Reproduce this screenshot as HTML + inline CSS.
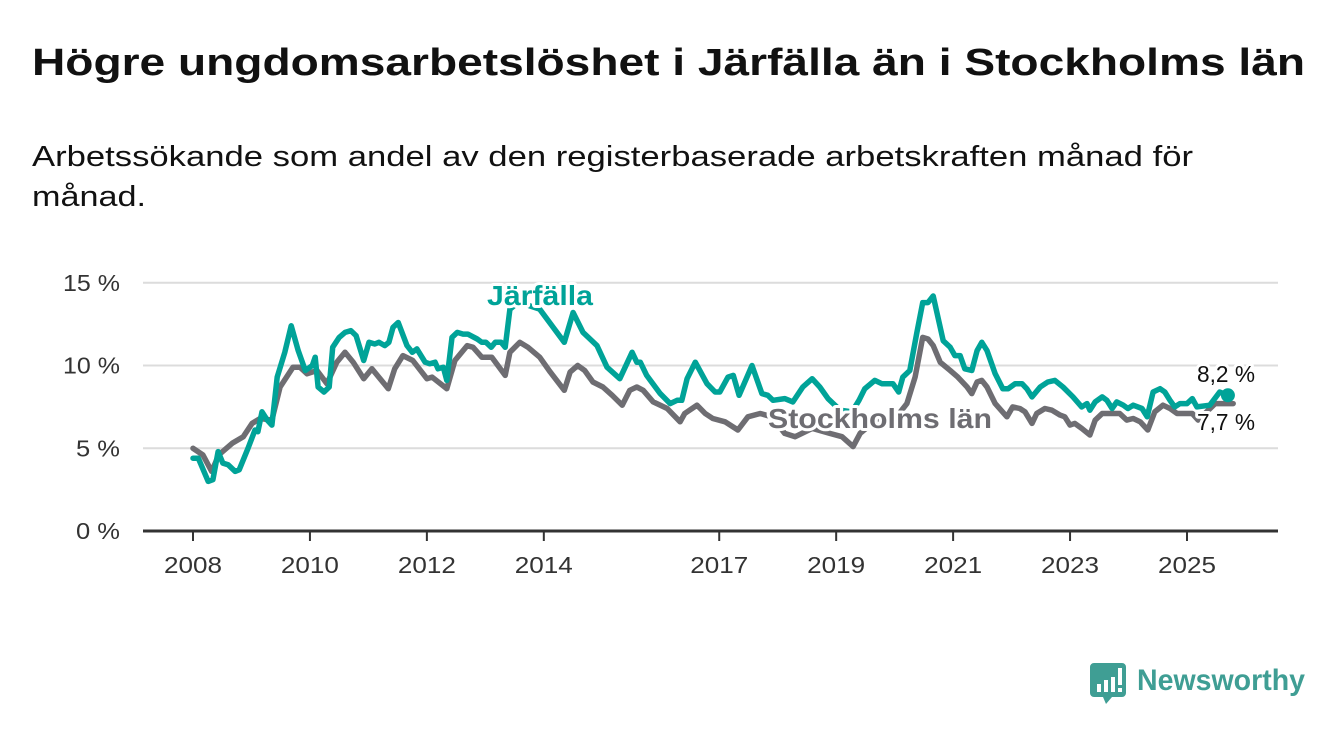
<!DOCTYPE html>
<html><head><meta charset="utf-8"><style>
html,body{margin:0;padding:0;background:#fff;}
svg{display:block;font-family:"Liberation Sans",sans-serif;}
</style></head><body>
<svg id="chart" width="1340" height="734" viewBox="0 0 1340 734">
<text x="32" y="75" font-size="38" font-weight="bold" fill="#111" textLength="1273" lengthAdjust="spacingAndGlyphs">Högre ungdomsarbetslöshet i Järfälla än i Stockholms län</text>
<text x="32" y="166" font-size="29" fill="#111" textLength="1161" lengthAdjust="spacingAndGlyphs">Arbetssökande som andel av den registerbaserade arbetskraften månad för</text>
<text x="32" y="206" font-size="29" fill="#111" textLength="114" lengthAdjust="spacingAndGlyphs">månad.</text>
<g id="grid"></g>
<g id="xaxis"></g>
<g id="series"></g>
<g id="labels"></g>
<g>
<path d="M1094 663 h28 a4 4 0 0 1 4 4 v26 a4 4 0 0 1 -4 4 h-10 l-6 7 l-3 -7 h-9 a4 4 0 0 1 -4 -4 v-26 a4 4 0 0 1 4 -4z" fill="#3f9e94"/>
<rect x="1097" y="684" width="4" height="8" fill="#fff"/>
<rect x="1104" y="680" width="4" height="12" fill="#fff"/>
<rect x="1111" y="677" width="4" height="15" fill="#fff"/>
<rect x="1118" y="668" width="4" height="17" fill="#fff"/>
<rect x="1118" y="688" width="4" height="4" fill="#fff"/>
<text x="1137" y="690" font-size="30" font-weight="bold" fill="#3f9e94" textLength="168" lengthAdjust="spacingAndGlyphs">Newsworthy</text>
</g>
</svg>
<script>
const yTicks = [0, 5, 10, 15];
const yTickLabels = ["0 %", "5 %", "10 %", "15 %"];
const xTicks = [2008, 2010, 2012, 2014, 2017, 2019, 2021, 2023, 2025];
const jarYears = [2008.0,2008.09,2008.26,2008.34,2008.43,2008.51,2008.60,2008.72,2008.79,2008.94,2009.06,2009.11,2009.18,2009.27,2009.35,2009.44,2009.57,2009.68,2009.80,2009.92,2010.04,2010.09,2010.14,2010.24,2010.33,2010.39,2010.50,2010.60,2010.70,2010.79,2010.92,2011.01,2011.11,2011.18,2011.28,2011.35,2011.42,2011.51,2011.66,2011.75,2011.83,2011.97,2012.05,2012.14,2012.19,2012.28,2012.34,2012.43,2012.52,2012.62,2012.70,2012.86,2012.94,2013.01,2013.10,2013.17,2013.27,2013.34,2013.42,2013.59,2013.76,2013.93,2014.16,2014.35,2014.50,2014.67,2014.76,2014.91,2015.08,2015.30,2015.51,2015.59,2015.65,2015.76,2015.99,2016.16,2016.28,2016.36,2016.45,2016.59,2016.79,2016.93,2017.01,2017.15,2017.24,2017.34,2017.56,2017.73,2017.83,2017.92,2018.12,2018.26,2018.43,2018.59,2018.72,2018.86,2019.07,2019.27,2019.39,2019.49,2019.66,2019.78,2019.97,2020.07,2020.14,2020.26,2020.38,2020.48,2020.57,2020.66,2020.83,2020.95,2021.03,2021.12,2021.20,2021.32,2021.41,2021.49,2021.58,2021.72,2021.85,2021.94,2022.06,2022.18,2022.26,2022.35,2022.49,2022.62,2022.74,2022.88,2023.05,2023.20,2023.29,2023.34,2023.43,2023.55,2023.63,2023.72,2023.80,2023.91,2023.99,2024.08,2024.23,2024.32,2024.42,2024.54,2024.62,2024.71,2024.79,2024.88,2025.00,2025.09,2025.17,2025.39,2025.56,2025.70];
const jarValues = [4.4,4.4,3.0,3.1,4.8,4.1,4.0,3.6,3.7,5.0,6.1,6.0,7.2,6.7,6.4,9.3,10.8,12.4,10.9,9.7,10.0,10.5,8.7,8.4,8.7,11.1,11.7,12.0,12.1,11.8,10.3,11.4,11.3,11.4,11.2,11.4,12.3,12.6,11.2,10.8,11.0,10.2,10.1,10.2,9.8,9.9,9.1,11.7,12.0,11.9,11.9,11.6,11.4,11.4,11.1,11.4,11.4,11.1,13.4,13.9,13.6,13.4,12.3,11.4,13.2,12.0,11.7,11.2,9.9,9.2,10.8,10.2,10.2,9.4,8.3,7.7,7.9,7.9,9.2,10.2,8.9,8.4,8.4,9.3,9.4,8.2,10.0,8.3,8.2,7.9,8.0,7.8,8.7,9.2,8.7,8.0,7.3,7.2,7.9,8.6,9.1,8.9,8.9,8.4,9.3,9.7,12.0,13.8,13.8,14.2,11.5,11.1,10.6,10.6,9.8,9.7,10.9,11.4,10.9,9.5,8.6,8.6,8.9,8.9,8.6,8.1,8.7,9.0,9.1,8.7,8.1,7.5,7.7,7.3,7.8,8.1,7.9,7.4,7.8,7.6,7.4,7.6,7.4,6.9,8.4,8.6,8.4,7.9,7.5,7.7,7.7,8.0,7.5,7.6,8.4,8.2];
const stoYears = [2008.0,2008.17,2008.32,2008.44,2008.67,2008.86,2009.01,2009.15,2009.35,2009.49,2009.71,2009.83,2009.95,2010.12,2010.29,2010.46,2010.60,2010.74,2010.92,2011.06,2011.34,2011.45,2011.59,2011.76,2012.00,2012.09,2012.34,2012.48,2012.69,2012.79,2012.94,2013.11,2013.34,2013.42,2013.59,2013.73,2013.93,2014.11,2014.35,2014.45,2014.58,2014.70,2014.84,2015.01,2015.17,2015.34,2015.47,2015.59,2015.70,2015.87,2016.11,2016.33,2016.41,2016.62,2016.76,2016.89,2017.10,2017.32,2017.49,2017.70,2017.90,2018.12,2018.30,2018.59,2018.89,2019.10,2019.29,2019.41,2019.75,2020.01,2020.21,2020.35,2020.48,2020.57,2020.66,2020.78,2020.95,2021.08,2021.24,2021.32,2021.41,2021.49,2021.58,2021.72,2021.92,2022.02,2022.14,2022.23,2022.35,2022.43,2022.57,2022.69,2022.83,2022.91,2023.00,2023.08,2023.20,2023.34,2023.43,2023.55,2023.85,2023.97,2024.08,2024.20,2024.33,2024.45,2024.59,2024.71,2024.83,2025.09,2025.19,2025.48,2025.62,2025.79];
const stoValues = [5.0,4.6,3.6,4.6,5.3,5.7,6.5,6.8,6.7,8.7,9.9,9.9,9.5,9.7,8.9,10.2,10.8,10.2,9.2,9.8,8.6,9.8,10.6,10.3,9.2,9.3,8.6,10.3,11.2,11.1,10.5,10.5,9.4,10.8,11.4,11.1,10.5,9.6,8.5,9.6,10.0,9.7,9.0,8.7,8.2,7.6,8.5,8.7,8.5,7.8,7.4,6.6,7.1,7.6,7.1,6.8,6.6,6.1,6.9,7.1,6.9,5.9,5.7,6.2,5.9,5.7,5.1,5.9,6.9,6.8,7.7,9.3,11.7,11.6,11.2,10.2,9.7,9.3,8.7,8.3,9.0,9.1,8.7,7.7,6.9,7.5,7.4,7.2,6.5,7.1,7.4,7.3,7.0,6.9,6.4,6.5,6.2,5.8,6.7,7.1,7.1,6.7,6.8,6.6,6.1,7.2,7.6,7.4,7.1,7.1,6.7,7.7,7.7,7.7];

const NS = "http://www.w3.org/2000/svg";
const X0 = 143, X1 = 1278;
const xs = y => 193 + (y - 2008) * 58.47;
const ys = v => 531 - v * 16.55;
function mk(tag, attrs, parent) {
  const e = document.createElementNS(NS, tag);
  for (const k in attrs) e.setAttribute(k, attrs[k]);
  parent.appendChild(e);
  return e;
}
const grid = document.getElementById('grid');
yTicks.forEach((t, i) => {
  if (t > 0) {
    const l = mk('line', {x1: X0, x2: X1, y1: ys(t), y2: ys(t), stroke: '#dcdcdc', 'stroke-width': 2}, grid);
    
    
  }
  const lbl = yTickLabels[i];
  const tx = mk('text', {x: 120, y: ys(t) + 8, 'text-anchor': 'end', 'font-size': 23, fill: '#333', textLength: lbl.length > 3 ? 57 : 44, lengthAdjust: 'spacingAndGlyphs'}, grid);
  tx.textContent = lbl;
  
  
});
const xa = document.getElementById('xaxis');
const ax = mk('line', {x1: X0, x2: X1, y1: 531, y2: 531, stroke: '#333', 'stroke-width': 3}, xa);


xTicks.forEach(t => {
  const tk = mk('line', {x1: xs(t), x2: xs(t), y1: 531, y2: 541, stroke: '#333', 'stroke-width': 2}, xa);
  
  
  const tx = mk('text', {x: xs(t) - 29, y: 573, 'font-size': 23, fill: '#333', textLength: 58, lengthAdjust: 'spacingAndGlyphs'}, xa);
  tx.textContent = String(t);
  
  
});
const sg = document.getElementById('series');
function pathOf(yrs, vals) {
  return yrs.map((y, i) => (i ? 'L' : 'M') + xs(y).toFixed(1) + ' ' + ys(vals[i]).toFixed(1)).join(' ');
}
const sl = mk('path', {d: pathOf(stoYears, stoValues), fill: 'none', stroke: '#6e6d72', 'stroke-width': 5.5, 'stroke-linejoin': 'round', 'stroke-linecap': 'round'}, sg);


const jl = mk('path', {d: pathOf(jarYears, jarValues), fill: 'none', stroke: '#00a398', 'stroke-width': 5.5, 'stroke-linejoin': 'round', 'stroke-linecap': 'round'}, sg);


const jn = jarYears.length - 1;
const jd = mk('circle', {cx: xs(jarYears[jn]), cy: ys(jarValues[jn]), r: 7, fill: '#00a398'}, sg);



const lg = document.getElementById('labels');
function lab(txt, x, y, size, weight, color, name, len) {
  const t = mk('text', {x: x, y: y, 'font-size': size, 'font-weight': weight, fill: color, stroke: '#fff', 'stroke-width': 6, 'paint-order': 'stroke', 'stroke-linejoin': 'round', textLength: len, lengthAdjust: 'spacingAndGlyphs'}, lg);
  t.textContent = txt;
  
  
  return t;
}
lab('Järfälla', 487, 305, 28, 'bold', '#00a398', 'label-jarfalla', 106);
lab('Stockholms län', 768, 428, 28, 'bold', '#6e6d72', 'label-stockholms-lan', 224);
lab('8,2 %', 1197, 382, 23, 'normal', '#111', 'value-label-jarfalla', 58);
lab('7,7 %', 1197, 430, 23, 'normal', '#111', 'value-label-stockholm', 58);
</script>
</body></html>
